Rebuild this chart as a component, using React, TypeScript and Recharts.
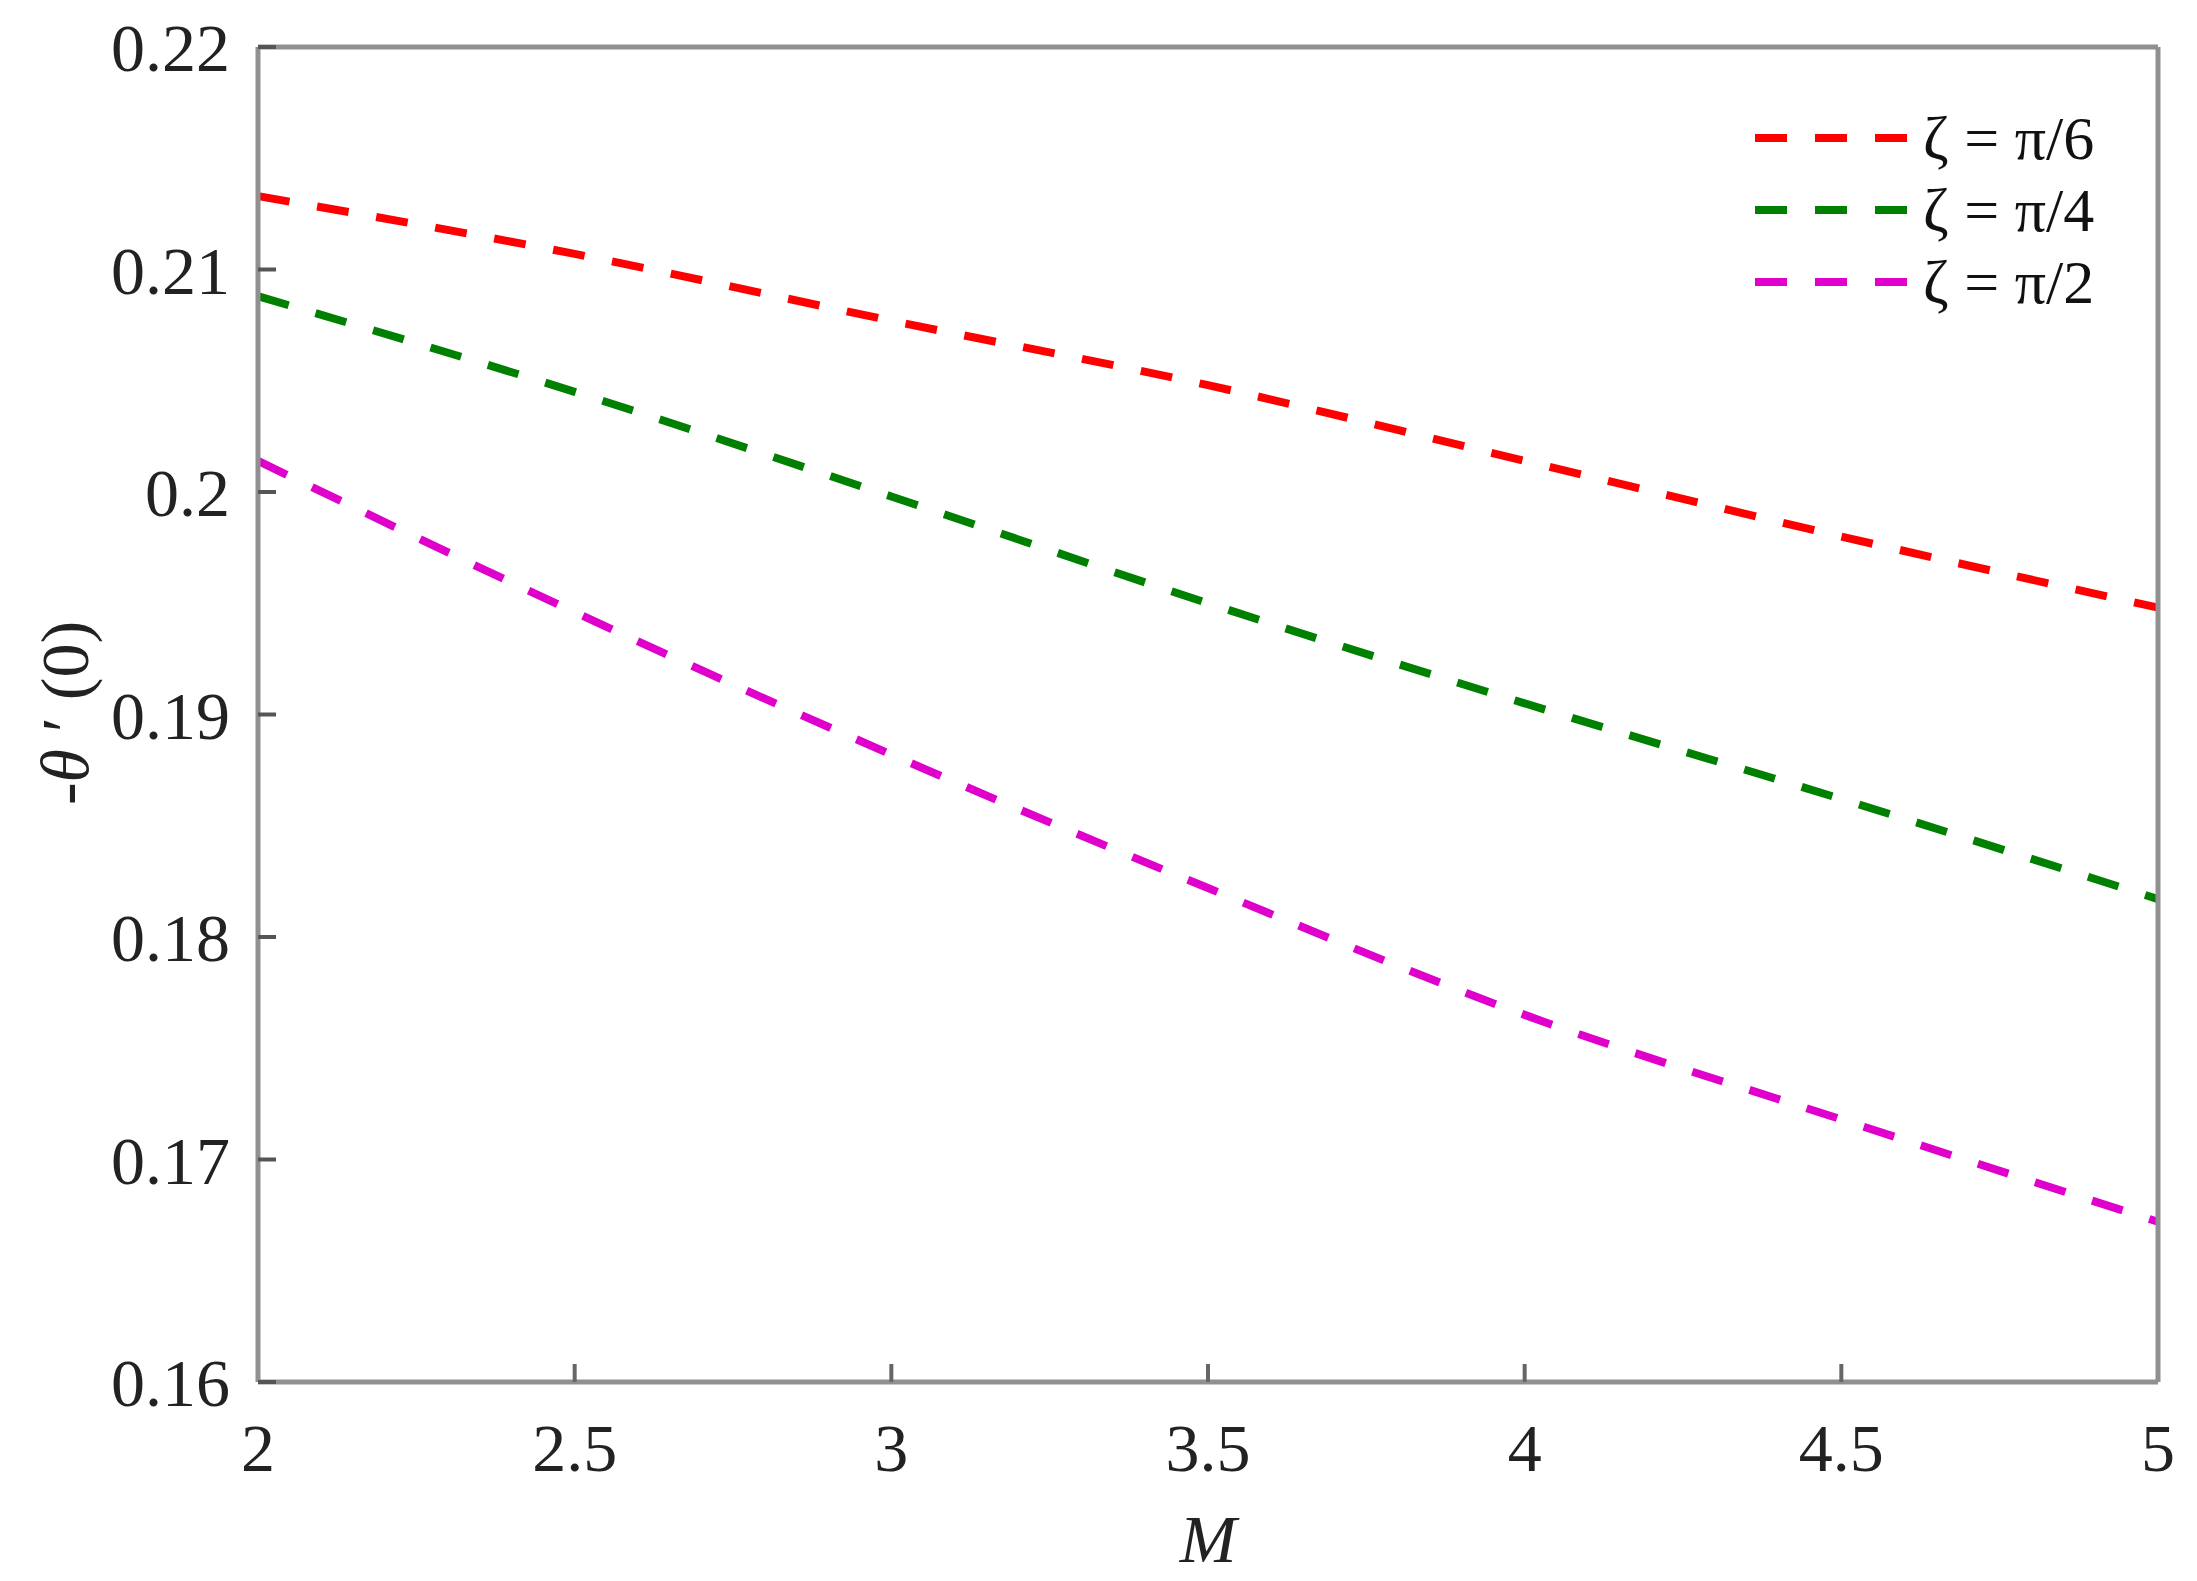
import { LineChart, Line, XAxis, YAxis } from 'recharts';

const M_VALUES = [2, 2.5, 3, 3.5, 4, 4.5, 5];
const PI6 = [0.2133, 0.2107, 0.2077, 0.2048, 0.2014, 0.198, 0.1948];
const PI4 = [0.2088, 0.2045, 0.1998, 0.195, 0.1905, 0.1862, 0.1817];
const PI2 = [0.2014, 0.1946, 0.1882, 0.1822, 0.1765, 0.1718, 0.1672];
const Y_TICKS = [0.16, 0.17, 0.18, 0.19, 0.2, 0.21, 0.22];

const SERIES = [
  { key: 'pi6', label: 'π/6', color: '#ff0000', values: PI6 },
  { key: 'pi4', label: 'π/4', color: '#008000', values: PI4 },
  { key: 'pi2', label: 'π/2', color: '#e000cc', values: PI2 },
];

const data = M_VALUES.map((m, i) => {
  const row: Record<string, number> = { m };
  SERIES.forEach((s) => (row[s.key] = s.values[i]));
  return row;
});

const FONT = '"Liberation Serif", "Times New Roman", serif';
const AXIS = '#909090';
const DASH = '32 28';
const tickStyle = { fontSize: 68, fill: '#222', fontFamily: FONT };

// legend sits in the upper right corner of the plot, like the original
function LegendBox() {
  return (
    <div
      style={{
        position: 'absolute',
        left: 1755,
        top: 102,
        fontFamily: FONT,
        fontSize: 62,
        color: '#111',
      }}
    >
      {SERIES.map((s) => (
        <div key={s.key} style={{ display: 'flex', alignItems: 'center', height: 72 }}>
          <svg width={152} height={20} style={{ marginRight: 16 }}>
            <line x1={0} y1={10} x2={152} y2={10} stroke={s.color} strokeWidth={8} strokeDasharray={DASH} />
          </svg>
          <span style={{ lineHeight: '72px', whiteSpace: 'nowrap' }}>ζ = {s.label}</span>
        </div>
      ))}
    </div>
  );
}

export default function App() {
  return (
    <div style={{ position: 'absolute', left: 0, top: 0, width: 2197, height: 1581 }}>
      <LineChart width={2197} height={1581} data={data} margin={{ top: 46, right: 38, bottom: 0, left: 0 }}>
        <XAxis
          dataKey="m"
          type="number"
          domain={[2, 5]}
          ticks={M_VALUES}
          height={199}
          stroke={AXIS}
          strokeWidth={5}
          tickSize={-18}
          tickMargin={59}
          tickLine={{ stroke: '#666', strokeWidth: 4 }}
          tick={tickStyle}
          label={() => (
            <text x={1208} y={1562} textAnchor="middle" fontFamily={FONT} fontSize={68} fontStyle="italic" fill="#222">
              M
            </text>
          )}
        />
        <XAxis
          xAxisId="t"
          orientation="top"
          dataKey="m"
          type="number"
          domain={[2, 5]}
          ticks={M_VALUES}
          height={1}
          stroke={AXIS}
          strokeWidth={5}
          tickSize={-18}
          tickLine={{ stroke: '#666', strokeWidth: 4 }}
          tick={false}
        />
        <YAxis
          type="number"
          domain={[0.16, 0.22]}
          ticks={Y_TICKS}
          width={258}
          stroke={AXIS}
          strokeWidth={5}
          tickSize={-18}
          tickMargin={46}
          tickLine={{ stroke: '#555', strokeWidth: 4 }}
          tick={tickStyle}
          tickFormatter={(v: number) => String(+v.toFixed(2))}
          label={() => (
            <text
              x={0}
              y={0}
              transform="translate(88 713) rotate(-90)"
              textAnchor="middle"
              fontFamily={FONT}
              fontSize={68}
              fill="#222"
            >
              -<tspan fontStyle="italic">θ</tspan> ′ (0)
            </text>
          )}
        />
        <YAxis
          yAxisId="r"
          orientation="right"
          type="number"
          domain={[0.16, 0.22]}
          ticks={Y_TICKS}
          width={1}
          stroke={AXIS}
          strokeWidth={5}
          tickSize={-18}
          tickLine={{ stroke: '#333', strokeWidth: 4 }}
          tick={false}
        />
        {SERIES.map((s) => (
          <Line
            key={s.key}
            dataKey={s.key}
            type="monotone"
            stroke={s.color}
            strokeWidth={8}
            strokeDasharray={DASH}
            dot={false}
            isAnimationActive={false}
          />
        ))}
      </LineChart>
      <LegendBox />
    </div>
  );
}
